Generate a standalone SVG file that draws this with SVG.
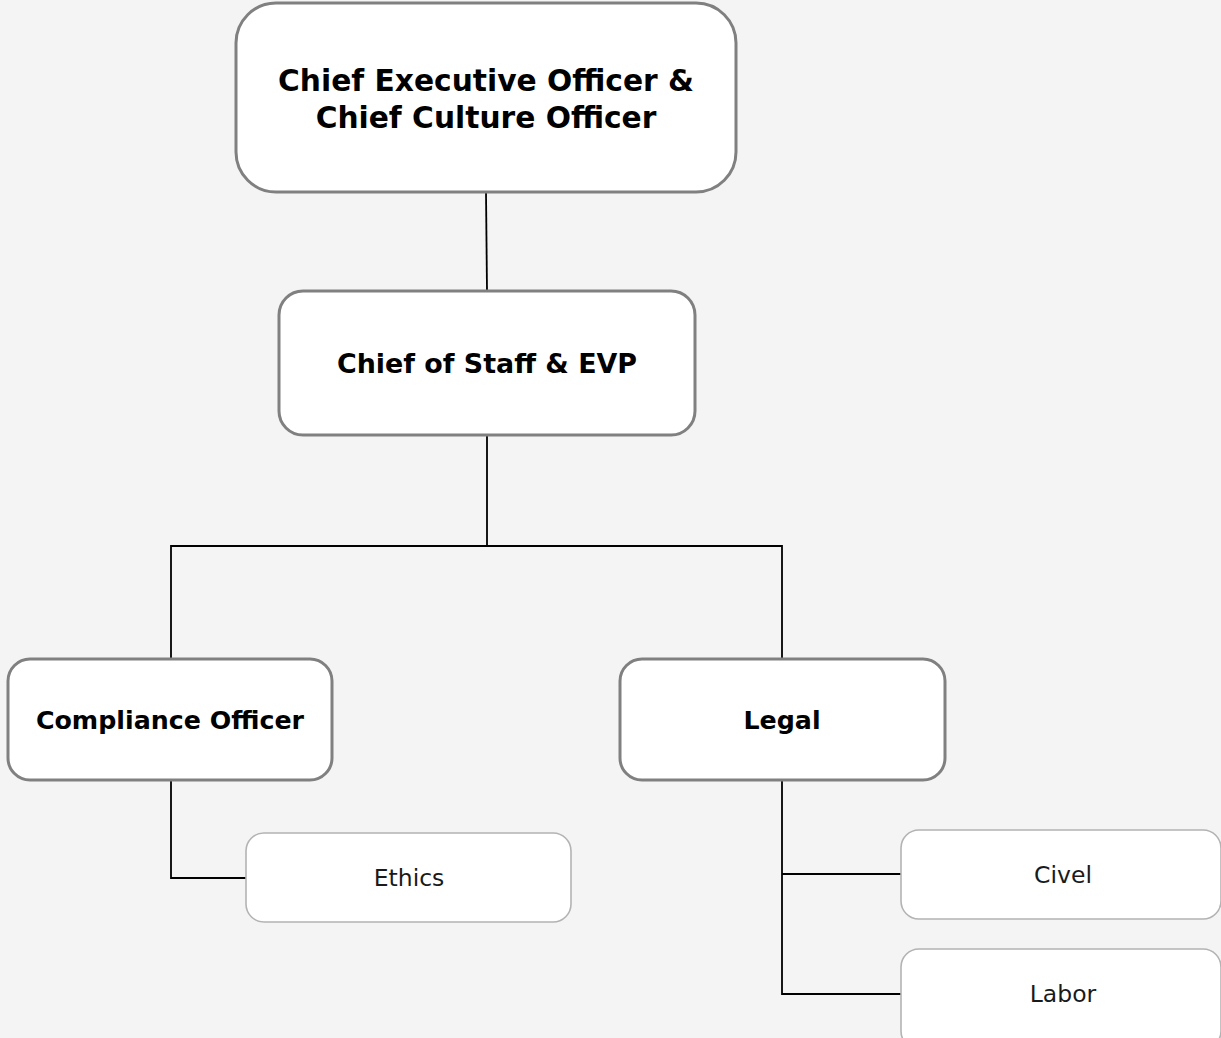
<svg xmlns="http://www.w3.org/2000/svg" width="1221" height="1038" viewBox="0 0 1221 1038">
<style>
.main{fill:#ffffff;stroke:#808080;stroke-width:3}
.sub{fill:#ffffff;stroke:#b3b3b3;stroke-width:1.6}
.tb{font-family:"DejaVu Sans",sans-serif;font-weight:bold;fill:#000000;text-anchor:middle}
.tr{font-family:"DejaVu Sans",sans-serif;font-weight:normal;fill:#1a1a1a;text-anchor:middle;font-size:23.5px}
.conn{fill:none;stroke:#000000;stroke-width:1.8}
</style>
<rect width="1221" height="1038" fill="#f4f4f4"/>
<g id="connectors">
<path class="conn" d="M486,192 L487,291"/>
<path class="conn" d="M487,435 V546 M171,659 V546 H782 V659"/>
<path class="conn" d="M171,780 V878 H246"/>
<path class="conn" d="M782,780 V994 H901 M782,874 H901"/>
</g>
<g id="ceo">
<rect class="main" x="236" y="3" width="500" height="189" rx="40"/>
<text class="tb" x="486" y="91" font-size="29.7">Chief Executive Officer &amp;</text>
<text class="tb" x="486" y="128" font-size="29.7">Chief Culture Officer</text>
</g>
<g id="chief-of-staff">
<rect class="main" x="279" y="291" width="416" height="144" rx="24"/>
<text class="tb" x="487" y="373" font-size="26.9">Chief of Staff &amp; EVP</text>
</g>
<g id="compliance">
<rect class="main" x="8" y="659" width="324" height="121" rx="22"/>
<text class="tb" x="170" y="729" font-size="25.3">Compliance Officer</text>
</g>
<g id="legal">
<rect class="main" x="620" y="659" width="325" height="121" rx="22"/>
<text class="tb" x="782" y="729" font-size="25.3">Legal</text>
</g>
<g id="ethics">
<rect class="sub" x="246" y="833" width="325" height="89" rx="18"/>
<text class="tr" x="409" y="886">Ethics</text>
</g>
<g id="civel">
<rect class="sub" x="901" y="830" width="320" height="89" rx="18"/>
<text class="tr" x="1063" y="883">Civel</text>
</g>
<g id="labor">
<rect class="sub" x="901" y="949" width="320" height="100" rx="18"/>
<text class="tr" x="1063" y="1002">Labor</text>
</g>
</svg>
